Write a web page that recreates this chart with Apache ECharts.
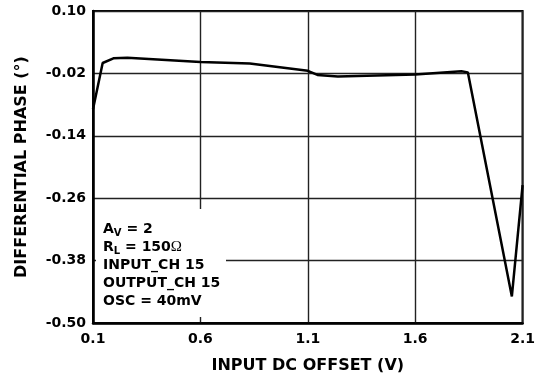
<!DOCTYPE html>
<html>
<head>
<meta charset="utf-8">
<script src="https://cdn.jsdelivr.net/npm/echarts@6/dist/echarts.min.js"></script>
<style>
  html, body { margin: 0; padding: 0; background: #fff; }
  #chart { width: 538px; height: 379px; }
</style>
</head>
<body>
<div id="chart"></div>
<script>
// input DC offset (V) and differential phase (deg)
const offsetV = [0.1, 0.145, 0.195, 0.26, 0.6, 0.83, 1.1, 1.145, 1.24, 1.6, 1.815, 1.845, 2.05, 2.1];
const phaseDeg = [-0.089, 0.0, 0.009, 0.010, 0.002, -0.001, -0.015, -0.023, -0.026, -0.022, -0.016, -0.018, -0.449, -0.235];

const xTickLabels = ["0.1", "0.6", "1.1", "1.6", "2.1"];
const yTickLabels = ["-0.50", "-0.38", "-0.26", "-0.14", "-0.02", "0.10"];

// axes start at 0.1 V / -0.50 deg; shift so min is a multiple of the interval
const X0 = 0.1;
const Y0 = -0.5;

const chart = echarts.init(document.getElementById("chart"));
const font = "DejaVu Sans";

chart.setOption({
  animation: false,
  backgroundColor: "#fff",
  grid: {
    left: 93,
    right: 13,
    top: 11,
    bottom: 54,
    show: true,
    borderColor: "#000",
    borderWidth: 2,
  },
  xAxis: {
    type: "value",
    min: 0,
    max: 2.0,
    interval: 0.5,
    name: "INPUT DC OFFSET (V)",
    nameLocation: "middle",
    nameGap: 35,
    nameTextStyle: { fontFamily: font, fontWeight: "bold", fontSize: 16, color: "#000" },
    axisLine: { lineStyle: { color: "#000", width: 2.5 } },
    axisTick: { show: false },
    axisLabel: {
      margin: 9,
      fontFamily: font,
      fontWeight: "bold",
      fontSize: 14,
      color: "#000",
      formatter: (v, i) => xTickLabels[i],
    },
    splitLine: { show: true, lineStyle: { color: "#222", width: 1.4 } },
  },
  yAxis: {
    type: "value",
    min: 0,
    max: 0.6,
    interval: 0.12,
    name: "DIFFERENTIAL PHASE (°)",
    nameLocation: "middle",
    nameGap: 63,
    nameTextStyle: { fontFamily: font, fontWeight: "bold", fontSize: 16, color: "#000" },
    axisLine: { lineStyle: { color: "#000", width: 2.5 } },
    axisTick: { show: false },
    axisLabel: {
      margin: 7,
      fontFamily: font,
      fontWeight: "bold",
      fontSize: 14,
      color: "#000",
      formatter: (v, i) => yTickLabels[i],
    },
    splitLine: { show: true, lineStyle: { color: "#222", width: 1.4 } },
  },
  graphic: [
    {
      type: "rect",
      shape: { x: 96, y: 209, width: 130, height: 108 },
      style: { fill: "#fff" },
      z: 5,
    },
    {
      type: "text",
      x: 103,
      y: 220,
      z: 6,
      style: {
        text: "{n|A}{sub|V}{n| = 2}\n{n|R}{sub|L}{n| = 150}{om|Ω}\n{n|INPUT_CH 15}\n{n|OUTPUT_CH 15}\n{n|OSC = 40mV}",
        rich: {
          n: { fontFamily: font, fontWeight: "bold", fontSize: 14, lineHeight: 18, fill: "#000" },
          sub: { fontFamily: font, fontWeight: "bold", fontSize: 10, lineHeight: 18, fill: "#000", padding: [8, 0, 0, 0] },
          om: { fontFamily: "Liberation Serif", fontSize: 15, lineHeight: 18, fill: "#000" },
        },
      },
    },
  ],
  series: [
    {
      type: "line",
      data: offsetV.map((x, i) => [x - X0, phaseDeg[i] - Y0]),
      showSymbol: false,
      lineStyle: { color: "#000", width: 2.5 },
      z: 10,
    },
  ],
});
</script>
</body>
</html>
